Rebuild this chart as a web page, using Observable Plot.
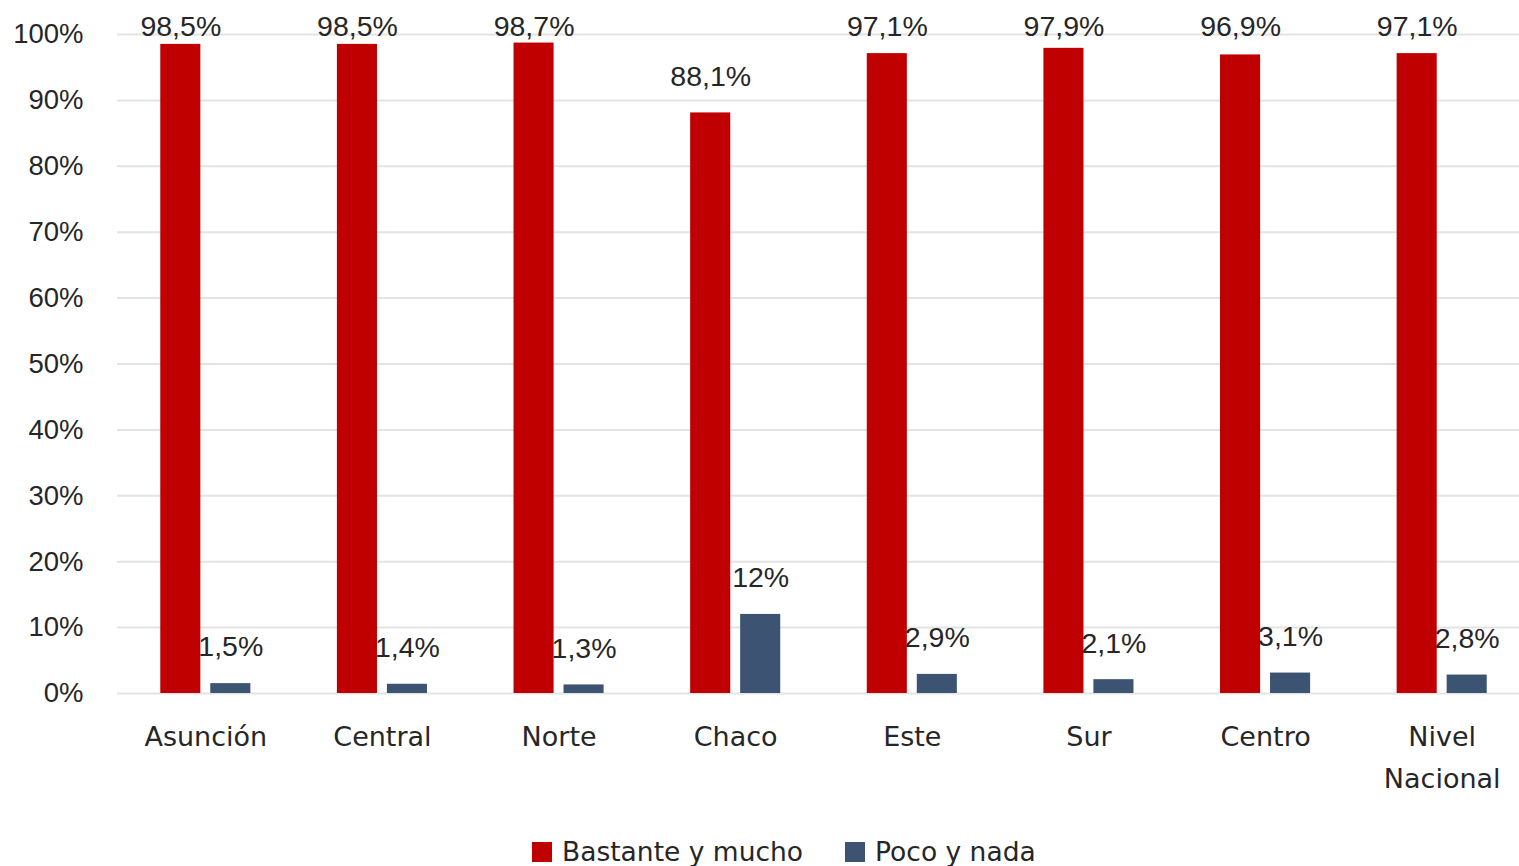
<!DOCTYPE html>
<html>
<head>
<meta charset="utf-8">
<script src="https://cdn.jsdelivr.net/npm/d3@7"></script>
<script src="https://cdn.jsdelivr.net/npm/@observablehq/plot@0.6"></script>
<style>
  html, body { margin: 0; padding: 0; background: #fff; overflow: hidden; }
  #chart svg { display: block; max-width: none !important; }
  .legend { display: flex; justify-content: flex-start; align-items: center; margin-left: 532px; margin-top: 26px;
    font-family: "DejaVu Sans", sans-serif; font-size: 26.5px; color: #262626; white-space: nowrap; }
  .legend .item { display: flex; align-items: center; margin-right: 42px; }
  .legend .sw { width: 20px; height: 20px; margin-right: 10px; }
</style>
</head>
<body>
<div id="chart"></div>
<script>
const categories = ["Asunción", "Central", "Norte", "Chaco", "Este", "Sur", "Centro", "Nivel\nNacional"];
const seriesNames = ["Bastante y mucho", "Poco y nada"];
const bastante = [98.5, 98.5, 98.7, 88.1, 97.1, 97.9, 96.9, 97.1];
const poco = [1.5, 1.4, 1.3, 12, 2.9, 2.1, 3.1, 2.8];
const colors = ["#C00000", "#3C5472"];
const yTicks = [0, 10, 20, 30, 40, 50, 60, 70, 80, 90, 100];

const fmt = v => (Number.isInteger(v) ? String(v) : String(v).replace(".", ",")) + "%";
// labels sit above the bar, but never above the top of the plot area (as in the source)
const labelY = v => Math.min(v + 5.5, 101.2);

const red = categories.map((c, i) => ({cat: c, value: bastante[i]}));
const blue = categories.map((c, i) => ({cat: c, value: poco[i]}));

const chart = Plot.plot({
  width: 1530,
  height: 810,
  marginLeft: 117,
  marginRight: 0,
  marginTop: 34,
  marginBottom: 117,
  x: {domain: categories, paddingInner: 0.49, paddingOuter: 0.245, round: false, label: null},
  y: {domain: [0, 100], label: null},
  style: {background: "#fff", color: "#262626"},
  marks: [
    Plot.ruleY(yTicks, {stroke: "#e3e3e3", strokeWidth: 2}),
    Plot.axisY(yTicks, {tickSize: 0, tickPadding: 34, tickFormat: d => d + "%",
      fontSize: 27.5, fontFamily: "Liberation Sans, Arial, sans-serif", fill: "#262626"}),
    Plot.axisX({tickSize: 0, tickPadding: 23, fontSize: 27, lineHeight: 1.54,
      fontFamily: "DejaVu Sans, sans-serif", fill: "#262626"}),
    Plot.barY(red, {x: "cat", y: "value", fill: colors[0], insetRight: 50}),
    Plot.barY(blue, {x: "cat", y: "value", fill: colors[1], insetLeft: 50}),
    Plot.text(red, {x: "cat", y: d => labelY(d.value), text: d => fmt(d.value), dx: -25,
      fontSize: 28.5, fontFamily: "Liberation Sans, Arial, sans-serif", fill: "#262626"}),
    Plot.text(blue, {x: "cat", y: d => labelY(d.value), text: d => fmt(d.value), dx: 25,
      fontSize: 28.5, fontFamily: "Liberation Sans, Arial, sans-serif", fill: "#262626"})
  ]
});
document.getElementById("chart").appendChild(chart);

const legend = document.createElement("div");
legend.className = "legend";
seriesNames.forEach((name, i) => {
  const item = document.createElement("div");
  item.className = "item";
  const sw = document.createElement("span");
  sw.className = "sw";
  sw.style.background = colors[i];
  const label = document.createElement("span");
  label.textContent = name;
  item.appendChild(sw);
  item.appendChild(label);
  legend.appendChild(item);
});
document.body.appendChild(legend);
</script>
</body>
</html>
